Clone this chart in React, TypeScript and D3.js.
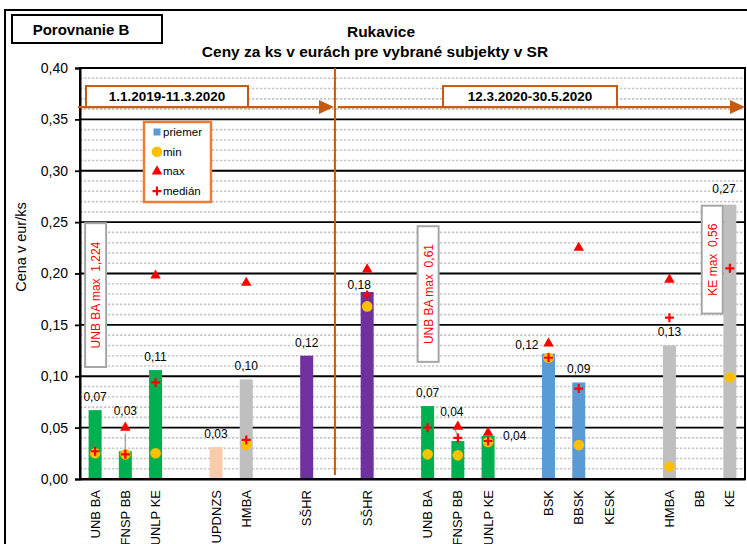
import * as d3 from 'd3';
import { useEffect, useRef } from 'react';

// categories along the x axis ('' = empty slot)
const categories = [
  'UNB BA', 'FNSP BB', 'UNLP KE', '', 'UPDNZS', 'HMBA', '', 'SŠHR', '', 'SŠHR', '',
  'UNB BA', 'FNSP BB', 'UNLP KE', '', 'BSK', 'BBSK', 'KESK', '', 'HMBA', 'BB', 'KE',
];
// group of each category -> bar colour
const groups = [
  'unl', 'unl', 'unl', '', 'upd', 'hm', '', 'ss', '', 'ss', '',
  'unl', 'unl', 'unl', '', 'vuc', 'vuc', 'vuc', '', 'hm', 'hm', 'hm',
];
const priemer = [
  0.067, 0.027, 0.106, null, 0.031, 0.097, null, 0.12, null, 0.182, null,
  0.071, 0.037, 0.042, null, 0.122, 0.094, null, null, 0.13, null, 0.267,
];
const minVals = [
  0.025, 0.024, 0.025, null, null, 0.033, null, null, null, 0.168, null,
  0.024, 0.023, 0.036, null, 0.118, 0.033, null, null, 0.012, null, 0.099,
];
const maxVals = [
  null, 0.05, 0.198, null, null, 0.191, null, null, null, 0.204, null,
  null, 0.051, 0.045, null, 0.132, 0.225, null, null, 0.194, null, null,
];
const medianVals = [
  0.027, 0.024, 0.094, null, null, 0.038, null, null, null, 0.179, null,
  0.05, 0.04, 0.037, null, 0.118, 0.088, null, null, 0.157, null, 0.205,
];
const legendItems = ['priemer', 'min', 'max', 'medián'];
const periods = ['1.1.2019-11.3.2020', '12.3.2020-30.5.2020'];
// off-scale maxima notes: [slot, text, top value, bottom value]
const notes: Array<[number, string, number, number]> = [
  [0, 'UNB BA max  1,224', 0.249, 0.109],
  [11, 'UNB BA max  0,61', 0.246, 0.114],
  [20.4, 'KE max  0,56', 0.266, 0.161],
];

const colors: Record<string, string> = {
  unl: '#00B050',
  upd: '#F8CBAD',
  hm: '#BFBFBF',
  ss: '#7030A0',
  vuc: '#5B9BD5',
};
const ORANGE = '#C55A11';

// label tweaks for some bars (dx, dy from default position, anchor)
const labelTweaks: Record<number, { dx: number; dy: number; anchor?: string }> = {
  1: { dx: 0, dy: -27 },
  9: { dx: -8, dy: 6 },
  12: { dx: -6, dy: -16 },
  13: { dx: 15, dy: 13, anchor: 'start' },
  15: { dx: -10, dy: 4, anchor: 'end' },
  21: { dx: -6, dy: -3 },
};

const fmt = (v: number) => d3.format('.2f')(v).replace('.', ',');

export default function App() {
  const svgRef = useRef<SVGSVGElement>(null);

  useEffect(() => {
    if (!svgRef.current) return;
    const root = d3.select(svgRef.current);
    root.selectAll('*').remove();

    const left = 80;
    const right = 745;
    const top = 68;
    const bottom = 479;

    const x = d3
      .scaleBand<string>()
      .domain(categories.map((_, i) => String(i)))
      .range([left, right])
      .paddingInner(0.57)
      .paddingOuter(0.285);
    const cx = (i: number) => (x(String(i)) as number) + x.bandwidth() / 2;
    const y = d3.scaleLinear().domain([0, 0.4]).range([bottom, top]);

    // outer frame
    root
      .append('rect')
      .attr('x', 5)
      .attr('y', 10)
      .attr('width', 800)
      .attr('height', 600)
      .attr('fill', 'white')
      .attr('stroke', 'black')
      .attr('stroke-width', 2);

    // title box + titles
    root
      .append('rect')
      .attr('x', 12)
      .attr('y', 15)
      .attr('width', 150)
      .attr('height', 28)
      .attr('fill', 'white')
      .attr('stroke', 'black')
      .attr('stroke-width', 2);
    root
      .append('text')
      .attr('x', 81)
      .attr('y', 35)
      .attr('text-anchor', 'middle')
      .style('font-size', '15px')
      .style('font-weight', 'bold')
      .text('Porovnanie B');
    root
      .append('text')
      .attr('x', 381)
      .attr('y', 37)
      .attr('text-anchor', 'middle')
      .style('font-size', '15.5px')
      .style('font-weight', 'bold')
      .text('Rukavice');
    root
      .append('text')
      .attr('x', 375)
      .attr('y', 57)
      .attr('text-anchor', 'middle')
      .style('font-size', '15.5px')
      .style('font-weight', 'bold')
      .text('Ceny za ks v eurách pre vybrané subjekty v SR');

    // minor dotted gridlines
    const minor = d3.range(1, 40).filter((k) => k % 5 !== 0).map((k) => k / 100);
    root
      .append('g')
      .selectAll('line')
      .data(minor)
      .enter()
      .append('line')
      .attr('x1', left)
      .attr('x2', right)
      .attr('y1', (d) => y(d))
      .attr('y2', (d) => y(d))
      .attr('stroke', '#C8C8C8')
      .attr('stroke-width', 1.6)
      .attr('stroke-dasharray', '2.4,1.6');

    // major gridlines
    root
      .append('g')
      .selectAll('line')
      .data(y.ticks(8))
      .enter()
      .append('line')
      .attr('x1', left)
      .attr('x2', right)
      .attr('y1', (d) => y(d))
      .attr('y2', (d) => y(d))
      .attr('stroke', 'black')
      .attr('stroke-width', 1.8);

    // plot frame
    root
      .append('rect')
      .attr('x', left)
      .attr('y', top)
      .attr('width', right - left)
      .attr('height', bottom - top)
      .attr('fill', 'none')
      .attr('stroke', 'black')
      .attr('stroke-width', 2);

    // Y axis
    const yAxis = root
      .append('g')
      .attr('transform', `translate(${left},0)`)
      .call(
        d3
          .axisLeft(y)
          .ticks(8)
          .tickSize(5)
          .tickPadding(7)
          .tickFormat((d) => fmt(d as number)),
      );
    yAxis.select('.domain').attr('stroke-width', 2);
    yAxis.selectAll('.tick line').attr('stroke-width', 1.8);
    yAxis.selectAll('text').style('font-size', '14px').style('font-family', 'Arial, "Liberation Sans", sans-serif');

    root
      .append('text')
      .attr('transform', `translate(26,247)rotate(-90)`)
      .attr('text-anchor', 'middle')
      .style('font-size', '14.5px')
      .text('Cena v eur/ks');

    // X axis
    const xAxis = root
      .append('g')
      .attr('transform', `translate(0,${bottom})`)
      .call(
        d3
          .axisBottom(x)
          .tickSize(0)
          .tickFormat((d) => categories[+d]),
      );
    xAxis.select('.domain').attr('stroke-width', 2);
    xAxis
      .selectAll('text')
      .attr('transform', 'rotate(-90)')
      .attr('x', -11)
      .attr('y', 0)
      .attr('dy', '0.35em')
      .style('text-anchor', 'end')
      .style('font-size', '13px')
      .style('font-family', 'Arial, "Liberation Sans", sans-serif');

    // divider between periods
    const divX = cx(8) - 2;
    root
      .append('line')
      .attr('x1', divX)
      .attr('x2', divX)
      .attr('y1', top)
      .attr('y2', bottom - 4)
      .attr('stroke', ORANGE)
      .attr('stroke-width', 2);

    // period arrows
    const arrowY = y(0.362);
    const arrows = [
      { x1: left - 2, x2: divX - 1, bx: left + 6, bw: 162 },
      { x1: divX + 3, x2: right, bx: 443, bw: 174 },
    ];
    arrows.forEach((a, i) => {
      root
        .append('line')
        .attr('x1', a.x1)
        .attr('x2', a.x2 - 12)
        .attr('y1', arrowY)
        .attr('y2', arrowY)
        .attr('stroke', ORANGE)
        .attr('stroke-width', 2.2);
      root
        .append('path')
        .attr('d', `M${a.x2 - 15},${arrowY - 7}L${a.x2},${arrowY}L${a.x2 - 15},${arrowY + 7}Z`)
        .attr('fill', ORANGE);
      root
        .append('rect')
        .attr('x', a.bx)
        .attr('y', arrowY - 21)
        .attr('width', a.bw)
        .attr('height', 21)
        .attr('fill', 'white')
        .attr('stroke', ORANGE)
        .attr('stroke-width', 2);
      root
        .append('text')
        .attr('x', a.bx + a.bw / 2)
        .attr('y', arrowY - 6)
        .attr('text-anchor', 'middle')
        .style('font-size', '13.5px')
        .style('font-weight', 'bold')
        .text(periods[i]);
    });

    const idx = categories.map((_, i) => i);

    // bars
    root
      .append('g')
      .selectAll('rect')
      .data(idx.filter((i) => priemer[i] != null))
      .enter()
      .append('rect')
      .attr('x', (i) => x(String(i)) as number)
      .attr('width', x.bandwidth())
      .attr('y', (i) => y(priemer[i] as number))
      .attr('height', (i) => bottom - 1 - y(priemer[i] as number))
      .attr('fill', (i) => colors[groups[i]]);

    // leader lines of moved labels
    root
      .append('line')
      .attr('x1', cx(1))
      .attr('x2', cx(1))
      .attr('y1', y(maxVals[1] as number) + 6)
      .attr('y2', y(priemer[1] as number))
      .attr('stroke', '#A6A6A6')
      .attr('stroke-width', 1.5);
    root
      .append('line')
      .attr('x1', cx(12) - 4)
      .attr('x2', cx(12) + 1)
      .attr('y1', y(priemer[12] as number) - 13)
      .attr('y2', y(priemer[12] as number) - 4)
      .attr('stroke', '#A6A6A6')
      .attr('stroke-width', 1.5);

    // max triangles
    root
      .append('g')
      .selectAll('path')
      .data(idx.filter((i) => maxVals[i] != null))
      .enter()
      .append('path')
      .attr('d', d3.symbol(d3.symbolTriangle, 48))
      .attr('transform', (i) => `translate(${cx(i)},${y(maxVals[i] as number)})`)
      .attr('fill', '#FF0000');

    // min circles
    root
      .append('g')
      .selectAll('circle')
      .data(idx.filter((i) => minVals[i] != null))
      .enter()
      .append('circle')
      .attr('cx', (i) => cx(i))
      .attr('cy', (i) => y(minVals[i] as number))
      .attr('r', 5.3)
      .attr('fill', '#FFC000');

    // median crosses
    root
      .append('g')
      .selectAll('path')
      .data(idx.filter((i) => medianVals[i] != null))
      .enter()
      .append('path')
      .attr('d', 'M-4.5,0H4.5M0,-4.5V4.5')
      .attr('transform', (i) => `translate(${cx(i)},${y(medianVals[i] as number)})`)
      .attr('stroke', '#FF0000')
      .attr('stroke-width', 2.2);

    // value labels
    root
      .append('g')
      .selectAll('text')
      .data(idx.filter((i) => priemer[i] != null))
      .enter()
      .append('text')
      .attr('x', (i) => cx(i) + (labelTweaks[i]?.dx ?? 0))
      .attr('y', (i) => y(priemer[i] as number) - 9 + (labelTweaks[i]?.dy ?? 0))
      .attr('text-anchor', (i) => labelTweaks[i]?.anchor ?? 'middle')
      .style('font-size', '12px')
      .text((i) => fmt(priemer[i] as number));

    // off-scale notes
    notes.forEach(([slot, text, hi, lo]) => {
      const nx = left + x.step() * (slot + 0.5);
      const g = root.append('g');
      g.append('rect')
        .attr('x', nx - 10)
        .attr('y', y(hi))
        .attr('width', 21)
        .attr('height', y(lo) - y(hi))
        .attr('fill', 'white')
        .attr('stroke', '#A6A6A6')
        .attr('stroke-width', 2);
      g.append('text')
        .attr('transform', `translate(${nx + 5},${(y(hi) + y(lo)) / 2})rotate(-90)`)
        .attr('text-anchor', 'middle')
        .attr('fill', '#FF0000')
        .style('font-size', '12px')
        .style('white-space', 'pre')
        .text(text);
    });

    // legend
    const lg = root.append('g').attr('transform', 'translate(144,122)');
    lg.append('rect')
      .attr('width', 67)
      .attr('height', 80)
      .attr('fill', 'white')
      .attr('stroke', '#ED7D31')
      .attr('stroke-width', 2.5);
    legendItems.forEach((name, i) => {
      const ly = 10 + i * 19.7;
      const item = lg.append('g').attr('transform', `translate(13,${ly})`);
      if (i === 0) item.append('rect').attr('x', -3.5).attr('y', -3.5).attr('width', 7).attr('height', 7).attr('fill', '#5B9BD5');
      if (i === 1) item.append('circle').attr('r', 5.3).attr('fill', '#FFC000');
      if (i === 2) item.append('path').attr('d', d3.symbol(d3.symbolTriangle, 48)).attr('fill', '#FF0000');
      if (i === 3)
        item.append('path').attr('d', 'M-4.5,0H4.5M0,-4.5V4.5').attr('stroke', '#FF0000').attr('stroke-width', 2.2);
      lg.append('text')
        .attr('x', 19)
        .attr('y', ly + 4)
        .style('font-size', '11.5px')
        .text(name);
    });
  }, []);

  return (
    <svg
      ref={svgRef}
      width={747}
      height={544}
      style={{ position: 'absolute', left: 0, top: 0, fontFamily: 'Arial, "Liberation Sans", sans-serif' }}
    />
  );
}
